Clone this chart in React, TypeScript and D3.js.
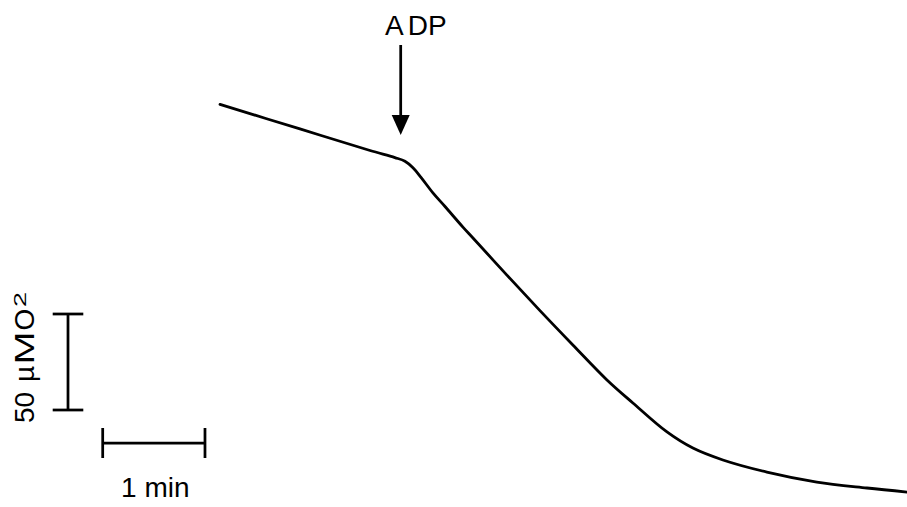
import React from "react";
import * as d3 from "d3";

// Oxygen trace: time (s) and O2 concentration (µM)
const timeSec = [0, 46.9, 88.0, 102.6, 108.5, 113.2, 117.9, 124.9, 132.0, 142.5, 148.4, 168.3, 187.7, 207.0, 227.0, 242.2, 262.2, 277.4, 295.0, 320.8, 350.1, 379.5, 403];
const oxygen = [229.8, 217.0, 205.8, 202.1, 200.2, 196.8, 191.8, 183.7, 176.6, 165.9, 160.2, 140.9, 122.4, 104.5, 86.3, 74.3, 59.2, 50.8, 44.6, 38.3, 33.1, 30.0, 27.9];
const adpTime = [106];
const adpLabel = ["A", "DP"];
const timeBarSec = [60];
const timeBarLabel = ["1 min"];
const o2BarUM = [50];
const o2BarUnit = ["\u00B5", "M", "O", "2"];

const W = 907;
const H = 507;

export default function App() {
  const x = d3.scaleLinear().domain([0, 403]).range([220, 907]);
  const y = d3.scaleLinear().domain([230, 0]).range([104, 104 + 230 * 1.92]);

  const pts: [number, number][] = timeSec.map((t, i) => [x(t), y(oxygen[i])]);
  const line = d3.line<[number, number]>().x(d => d[0]).y(d => d[1]).curve(d3.curveCatmullRom.alpha(0.5));

  const ax = x(adpTime[0]);
  const tBarLen = x(timeBarSec[0]) - x(0);
  const oBarLen = y(0) - y(o2BarUM[0]);

  const hbX0 = 102.7, hbY = 443;
  const vbX = 68, vbY0 = 314;
  const sw = 2.75;
  const font = "Arial, 'Liberation Sans', sans-serif";

  return (
    <div style={{ position: "absolute", left: 0, top: 0 }}>
      <svg width={W} height={H} style={{ display: "block", background: "#fff" }}>
        <path d={line(pts) || ""} fill="none" stroke="#000" strokeWidth={2.8} strokeLinejoin="round" strokeLinecap="round" />

        {/* ADP arrow */}
        <line x1={ax} x2={ax} y1={45} y2={116} stroke="#000" strokeWidth={sw} />
        <path d={`M${ax - 9},115 L${ax + 9},115 L${ax},135 Z`} fill="#000" />
        <text x={385} y={35} fontFamily={font} fontSize={28} fill="#000">
          {adpLabel[0]}
          <tspan dx={4}>{adpLabel[1]}</tspan>
        </text>

        {/* vertical scale bar */}
        <line x1={vbX} x2={vbX} y1={vbY0} y2={vbY0 + oBarLen} stroke="#000" strokeWidth={sw} />
        <line x1={vbX - 15.3} x2={vbX + 15.3} y1={vbY0} y2={vbY0} stroke="#000" strokeWidth={sw} />
        <line x1={vbX - 15.3} x2={vbX + 15.3} y1={vbY0 + oBarLen} y2={vbY0 + oBarLen} stroke="#000" strokeWidth={sw} />
        <g transform="translate(34,423) rotate(-90)" fontFamily={font} fill="#000">
          <text x={0} y={0} fontSize={28}>{o2BarUM[0]}</text>
          <text x={41} y={0} fontSize={28}>{o2BarUnit[0]}</text>
          <text x={58.5} y={0} fontSize={28} textLength={33} lengthAdjust="spacingAndGlyphs">{o2BarUnit[1]}</text>
          <text x={92.5} y={0} fontSize={28}>{o2BarUnit[2]}</text>
          <text x={116} y={-8} fontSize={16} textLength={15} lengthAdjust="spacingAndGlyphs">{o2BarUnit[3]}</text>
        </g>

        {/* horizontal scale bar */}
        <line x1={hbX0} x2={hbX0 + tBarLen} y1={hbY} y2={hbY} stroke="#000" strokeWidth={sw} />
        <line x1={hbX0} x2={hbX0} y1={hbY - 15} y2={hbY + 15} stroke="#000" strokeWidth={sw} />
        <line x1={hbX0 + tBarLen} x2={hbX0 + tBarLen} y1={hbY - 15} y2={hbY + 15} stroke="#000" strokeWidth={sw} />
        <text x={hbX0 + tBarLen / 2 + 1.5} y={497} textAnchor="middle" fontFamily={font} fontSize={28} fill="#000">{timeBarLabel[0]}</text>
      </svg>
    </div>
  );
}
